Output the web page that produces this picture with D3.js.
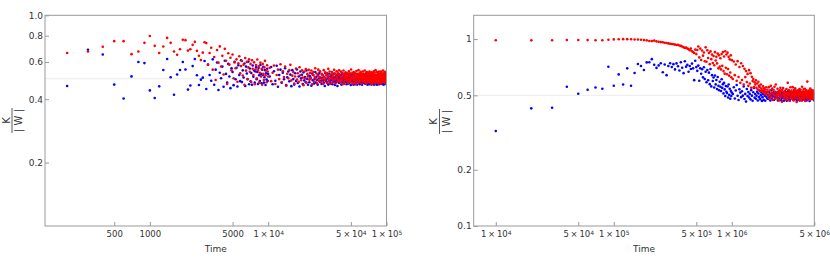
<!DOCTYPE html>
<html>
<head>
<meta charset="utf-8">
<script src="https://cdn.jsdelivr.net/npm/d3@7"></script>
<style>
  body { margin: 0; background: #fff; }
  svg { display: block; }
  .frame { fill: none; stroke: #999; stroke-width: 1; }
  .grid { stroke: #ececec; stroke-width: 1; }
  .axis text { fill: #333; }
  .ylab text { fill: #333; }
  .ylab line { stroke: #333; stroke-width: 0.8; }
  .xlab { fill: #333; }
</style>
</head>
<body>
<script>

const FONT = "'DejaVu Sans', sans-serif"
const TOP = 15.3, BOTTOM = 226
const GRID_VALUE = 0.5

// time grids: [first, last, step]
const leftTimeSegments = [[200, 10000, 100], [10300, 100000, 300]]
const rightTimeSegments = [[1e4, 1e6, 1e4], [1.02e6, 5e6, 2e4]]

// K/|W| in thousandths, one value per time step
const leftRed = [
  662,673,709,754,754,654,673,740,798,716,662,711,781,740,673,650,690,765,762,680,690,724,748,678,643,613,665,745,
  738,583,662,701,552,634,493,684,596,712,
  571,642,524,693,608,472,661,583,629,548,
  652,503,597,561,618,484,592,639,531,574,
  607,518,583,468,627,546,601,497,566,619,
  539,588,482,612,557,521,598,471,553,581,
  502,617,549,572,479,533,596,512,558,468,
  588,527,493,566,608,519,547,481,579,541,
  512,
  563,487,534,578,472,521,552,498,586,481,543,509,571,463,528,502,549,582,491,517,
  538,474,512,559,496,531,483,567,519,492,548,507,466,541,503,556,479,527,513,551,
  494,533,502,547,471,522,538,484,509,561,497,529,476,518,552,489,511,543,501,482,
  527,498,519,473,549,508,492,536,503,521,478,532,514,557,488,499,541,472,524,506,
  502,538,481,523,512,493,551,497,529,474,518,503,542,509,483,531,496,521,548,487,
  519,484,507,541,498,532,489,513,471,524,547,501,479,528,511,492,537,504,522,509,
  491,529,508,476,521,497,542,483,512,531,499,518,488,553,506,481,502,534,516,473,
  509,503,538,492,523,479,531,507,496,472,519,544,487,512,528,501,484,522,508,549,
  498,517,482,531,506,489,524,539,501,513,474,529,497,518,493,508,541,486,521,502,
  527,491,509,503,547,482,516,511,494,533,499,476,521,538,507,495,484,529,492,518,
  506,483,532,497,519,541,491,512,503,479,528,516,499,472,509,537,488,523,501,531,
  502,529,487,518,481,507,543,496,521,489,511,534,473,502,517,549,492,508,497,483,
  518,497,482,538,509,493,527,501,516,476,512,531,498,489,521,541,484,507,503,519,
  493,522,508,474,533,499,541,488,512,519,481,497,528,509,491,523,502,547,486,511,
  509,492,531,498,483,518,507,539,496,489,522,477,513,529,501,486,517,508,536,497
]
const leftBlue = [
  462,686,652,469,403,513,600,593,440,405,460,550,620,508,420,524,550,600,553,444,464,574,620,519,467,495,506,607,
  447,583,521,489,618,468,552,597,442,534,
  503,571,458,609,527,479,588,512,451,561,
  538,466,602,497,563,459,579,521,487,612,
  482,548,507,591,462,571,529,498,603,471,
  559,486,532,468,578,511,547,479,541,566,
  497,538,472,562,519,488,581,527,476,552,
  521,569,479,508,549,467,531,496,558,488,
  527,
  512,568,471,543,489,576,458,521,552,479,534,497,561,466,508,541,486,523,461,549,
  498,469,531,488,553,477,512,459,541,503,522,472,536,491,509,481,547,499,468,518,
  481,513,502,463,529,492,521,474,498,538,479,511,493,468,524,501,532,483,507,489,
  472,503,519,491,478,509,462,531,497,486,521,479,501,469,512,528,488,476,499,517,
  492,523,471,502,511,483,529,489,467,508,497,481,519,493,462,512,501,527,478,503,
  509,482,498,521,469,503,487,532,479,511,491,473,518,497,481,508,527,489,502,471,
  483,502,529,488,512,474,499,518,479,493,509,501,467,521,488,481,511,497,526,489,
  501,468,508,482,519,497,489,471,528,502,478,511,492,517,469,499,513,484,503,521,
  489,512,478,503,471,519,497,486,509,481,527,492,501,468,513,498,518,479,491,507,
  518,489,502,481,511,493,473,522,499,477,509,503,488,531,479,501,468,512,497,486,
  478,503,519,492,498,471,511,489,482,521,501,509,477,493,512,469,498,517,488,502,
  502,481,509,497,486,522,479,503,468,512,491,499,519,483,501,508,489,472,516,497,
  489,511,501,468,521,493,502,478,509,497,482,518,491,507,471,499,487,523,502,479,
  508,492,479,517,499,472,512,501,488,481,519,497,511,489,476,502,527,486,509,469,
  497,521,489,478,512,501,471,509,498,486,511,482,503,519,491,508,479,499,487,513
]
const rightRed = [
  985,984,986,988,989,987,986,985,992,996,
  998,999,999,998,995,994,991,987,984,977,
  975,981,972,966,963,961,955,952,948,944,
  941,938,934,929,931,924,919,913,905,896,
  901,889,884,872,889,861,853,842,878,831,
  874,912,798,889,772,868,815,847,761,903,
  756,871,792,842,734,859,781,826,745,812,
  724,851,768,803,741,836,697,818,712,789,
  688,832,719,852,674,807,653,861,702,827,
  648,846,691,803,637,779,662,818,624,771,
  612,758,641,731,598,762,627,709,583,742,
  604,718,571,693,626,674,589,651,562,682,
  578,657,549,628,596,612,553,587,571,602,
  548,579,537,591,562,553,526,571,544,532,
  529,558,517,546,538,521,507,552,518,536,
  521,498,553,482,531,507,562,491,518,543,473,511,534,502,556,479,522,571,497,488,
  509,542,478,523,501,469,532,513,549,491,524,497,462,536,508,547,486,503,519,481,
  528,499,512,474,541,517,489,508,583,482,501,533,511,468,522,497,552,489,514,531,
  502,479,518,553,491,509,471,534,498,521,487,546,513,482,503,529,461,524,497,511,
  493,532,501,514,472,519,541,483,509,498,536,487,521,502,469,511,556,498,481,523,
  512,497,538,478,523,489,514,542,501,467,521,509,491,532,499,484,519,592,487,508,
  501,524,482,509,531,493,502,518,474,511,543,497,522,489,513,478,534,503,519,491,
  512,529,481,503,521,492,509,498,531,518
]
const rightBlue = [
  322,426,429,556,510,536,551,542,711,563,
  647,571,697,563,658,735,717,683,750,752,
  781,729,701,723,742,664,731,641,718,743,
  709,734,688,741,716,679,752,702,657,761,
  712,729,668,718,691,739,697,603,765,708,
  676,721,598,698,652,689,624,707,611,668,
  587,683,602,661,574,692,558,641,597,623,
  551,638,572,604,541,627,563,532,591,556,
  527,609,548,574,512,583,538,496,561,523,
  514,557,487,571,503,542,479,528,496,518,
  508,552,481,531,568,497,472,539,517,489,
  526,498,557,478,509,463,541,496,521,487,
  509,476,533,498,468,519,547,486,508,479,
  497,522,469,511,489,531,477,501,518,466,
  489,508,473,528,497,468,512,491,519,481,
  502,478,521,489,511,469,497,532,481,508,493,501,519,472,509,488,479,517,498,491,
  511,487,469,522,503,479,508,497,529,488,471,513,501,482,518,493,507,468,499,521,
  478,509,502,487,519,468,498,511,483,527,501,489,512,477,469,521,497,491,508,503,
  492,518,481,499,507,486,471,521,502,479,511,497,531,488,501,476,509,468,519,493,
  509,498,487,521,479,502,512,469,528,491,497,517,482,508,489,501,471,511,499,522,
  501,483,512,491,519,497,472,509,488,503,521,479,498,511,469,492,518,502,481,507,
  488,513,499,479,508,522,491,467,502,511,483,519,497,489,512,478,501,527,493,498,
  509,491,502,518,479,497,511,487,471,503
]

// ticks (thin spaces around the times sign)
const leftXTicks = [500, 1000, 5000, 1e4, 5e4, 1e5]
const leftXLabels = ['500', '1000', '5000', '1\u2009×\u200910^4', '5\u2009×\u200910^4', '1\u2009×\u200910^5']
const leftXMinor = [200, 300, 400, 600, 700, 800, 900, 2000, 3000, 4000, 6000, 7000, 8000, 9000,
  2e4, 3e4, 4e4, 6e4, 7e4, 8e4, 9e4]
const leftYTicks = [0.2, 0.4, 0.6, 0.8, 1.0]
const leftYLabels = ['0.2', '0.4', '0.6', '0.8', '1.0']
const leftYMinor = [0.15, 0.25, 0.3, 0.35, 0.45, 0.5, 0.55, 0.65, 0.7, 0.75, 0.85, 0.9, 0.95]

const rightXTicks = [1e4, 5e4, 1e5, 5e5, 1e6, 5e6]
const rightXLabels = ['1\u2009×\u200910^4', '5\u2009×\u200910^4', '1\u2009×\u200910^5',
  '5\u2009×\u200910^5', '1\u2009×\u200910^6', '5\u2009×\u200910^6']
const rightXMinor = [7000, 8000, 9000, 2e4, 3e4, 4e4, 6e4, 7e4, 8e4, 9e4,
  2e5, 3e5, 4e5, 6e5, 7e5, 8e5, 9e5, 2e6, 3e6, 4e6]
const rightYTicks = [0.1, 0.2, 0.5, 1]
const rightYLabels = ['0.1', '0.2', '0.5', '1']
const rightYMinor = [0.15, 0.3, 0.4, 0.6, 0.7, 0.8, 0.9, 1.2]

const COLORS = { red: '#ff0000', blue: '#0000ff' }

// panel options built from the arrays above
const panels = [
  { id: 'l', left: 45, right: 386.5, xDomain: [130, 1e5], yDomain: [0.1, 1],
    times: buildTimes(leftTimeSegments), red: leftRed, blue: leftBlue,
    xTicks: leftXTicks, xLabels: leftXLabels, xMinor: leftXMinor,
    yTicks: leftYTicks, yLabels: leftYLabels, yMinor: leftYMinor,
    labX: 12, labY: 120.5 },
  { id: 'r', left: 473.7, right: 814.3, xDomain: [6500, 5e6], yDomain: [0.1, 1.34],
    times: buildTimes(rightTimeSegments), red: rightRed, blue: rightBlue,
    xTicks: rightXTicks, xLabels: rightXLabels, xMinor: rightXMinor,
    yTicks: rightYTicks, yLabels: rightYLabels, yMinor: rightYMinor,
    labX: 439.5, labY: 121.5 }
]

function buildTimes(segments) {
  return segments.flatMap(([a, b, s]) => d3.range(a, b + s / 2, s))
}

const svg = d3.select('body').append('svg')
  .attr('width', 830)
  .attr('height', 266)
  .style('font-family', FONT)
  .style('font-size', '9px')

panels.forEach(p => draw(p))

function draw(p) {
  const x = d3.scaleLog().domain(p.xDomain).range([p.left, p.right])
  const y = d3.scaleLog().domain(p.yDomain).range([BOTTOM, TOP])

  const g = svg.append('g')

  svg.append('clipPath').attr('id', 'clip-' + p.id)
    .append('rect')
      .attr('x', p.left).attr('y', TOP)
      .attr('width', p.right - p.left).attr('height', BOTTOM - TOP)

  g.append('line')
    .attr('class', 'grid')
    .attr('x1', p.left).attr('x2', p.right)
    .attr('y1', y(GRID_VALUE)).attr('y2', y(GRID_VALUE))

  // blue first, red drawn on top
  ;[['blue', p.blue], ['red', p.red]].forEach(([name, vals]) => {
    g.append('g')
      .attr('clip-path', 'url(#clip-' + p.id + ')')
      .attr('fill', COLORS[name])
    .selectAll('circle')
      .data(d3.zip(p.times, vals))
    .join('circle')
      .attr('cx', d => x(d[0]))
      .attr('cy', d => y(d[1] / 1000))
      .attr('r', 1.3)
  })

  // x axis
  const xa = g.append('g')
    .attr('class', 'axis')
    .attr('transform', 'translate(0,' + BOTTOM + ')')
    .attr('color', '#999')
    .call(d3.axisBottom(x).tickValues(p.xMinor).tickSize(-2).tickFormat(''))
    .call(d3.axisBottom(x).tickValues(p.xTicks).tickSize(-4).tickPadding(5)
      .tickFormat(d => p.xLabels[p.xTicks.indexOf(d)]))
    .attr('font-family', FONT).attr('font-size', 8.5)
  xa.selectAll('.domain').remove()
  xa.selectAll('text').each(function() {
    const t = d3.select(this)
    const s = t.text()
    if (s.indexOf('^') < 0) return
    const [base, exp] = s.split('^')
    t.text(null)
    t.append('tspan').text(base)
    t.append('tspan').attr('dy', '-0.4em').attr('font-size', 6).text(exp)
  })

  // y axis
  const ya = g.append('g')
    .attr('class', 'axis')
    .attr('transform', 'translate(' + p.left + ',0)')
    .attr('color', '#999')
    .call(d3.axisLeft(y).tickValues(p.yMinor).tickSize(-2).tickFormat(''))
    .call(d3.axisLeft(y).tickValues(p.yTicks).tickSize(-4).tickPadding(2)
      .tickFormat(d => p.yLabels[p.yTicks.indexOf(d)]))
    .attr('font-family', FONT).attr('font-size', 9)
  ya.selectAll('.domain').remove()

  g.append('rect')
    .attr('class', 'frame')
    .attr('x', p.left).attr('y', TOP)
    .attr('width', p.right - p.left).attr('height', BOTTOM - TOP)

  g.append('text')
    .attr('class', 'xlab')
    .attr('x', (p.left + p.right) / 2)
    .attr('y', 252)
    .attr('text-anchor', 'middle')
    .text('Time')

  // K / |W| as a rotated fraction
  const lab = g.append('g')
    .attr('class', 'ylab')
    .attr('transform', 'translate(' + p.labX + ',' + p.labY + ') rotate(-90)')
    .attr('font-size', 10)
  lab.append('text').attr('text-anchor', 'middle').attr('y', -2.5).text('K')
  lab.append('line').attr('x1', -12.5).attr('x2', 12.5)
  lab.append('text').attr('text-anchor', 'middle').attr('y', 10).text('| W |')
}

</script>
</body>
</html>
